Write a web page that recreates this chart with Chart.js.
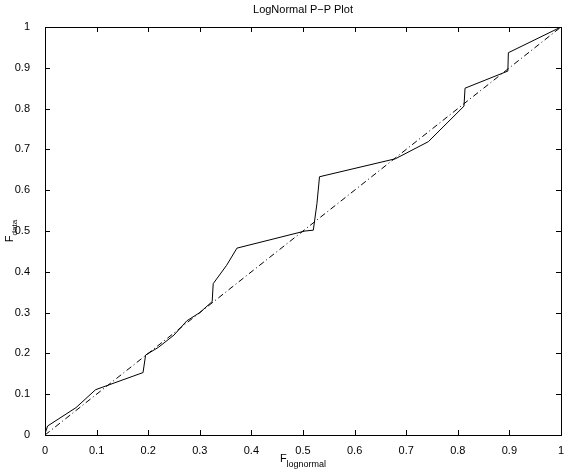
<!DOCTYPE html>
<html>
  <head>
    <meta charset="UTF-8" />
    <title>LogNormal P-P Plot</title>
    <script src="https://cdn.jsdelivr.net/npm/chart.js"></script>
    <style>
      body {
        margin: 0;
        background: #fff;
      }
      #wrap {
        width: 566px;
        height: 469px;
      }
    </style>
  </head>
  <body>
    <div id="wrap"><canvas id="pp"></canvas></div>
    <script>
      // P-P points
      const fLognormal = [
        0, 0.005, 0.06, 0.098, 0.19, 0.195, 0.22, 0.25, 0.275, 0.3, 0.324,
        0.326, 0.352, 0.372, 0.504, 0.52, 0.527, 0.532, 0.679, 0.743, 0.812,
        0.814, 0.897, 0.898, 1,
      ];
      const fData = [
        0.003, 0.022, 0.067, 0.111, 0.153, 0.196, 0.215, 0.245, 0.28, 0.3,
        0.327, 0.371, 0.416, 0.458, 0.5, 0.502, 0.567, 0.633, 0.677, 0.719,
        0.806, 0.85, 0.892, 0.937, 1,
      ];
      const refX = [0, 1];
      const refY = [0, 1];
      const tickValues = [0, 0.1, 0.2, 0.3, 0.4, 0.5, 0.6, 0.7, 0.8, 0.9, 1];

      const font = "Liberation Sans, Arial, Helvetica, sans-serif";
      const fmt = (v) => String(Math.round(v * 10) / 10);

      const frame = {
        id: "frame",
        afterDraw(chart) {
          const { ctx, chartArea: a, scales } = chart;
          ctx.save();
          ctx.strokeStyle = "#000";
          ctx.lineWidth = 1;
          ctx.beginPath();
          tickValues.forEach((v) => {
            const x = Math.round(scales.x.getPixelForValue(v)) + 0.5;
            const y = Math.round(scales.y.getPixelForValue(v)) + 0.5;
            ctx.moveTo(x, a.bottom);
            ctx.lineTo(x, a.bottom - 5);
            ctx.moveTo(x, a.top);
            ctx.lineTo(x, a.top + 5);
            ctx.moveTo(a.left, y);
            ctx.lineTo(a.left + 5, y);
            ctx.moveTo(a.right, y);
            ctx.lineTo(a.right - 5, y);
          });
          ctx.stroke();
          ctx.strokeRect(
            Math.round(a.left) + 0.5,
            Math.round(a.top) + 0.5,
            Math.round(a.right - a.left),
            Math.round(a.bottom - a.top)
          );

          // title and axis labels
          ctx.fillStyle = "#000";
          const cx = (a.left + a.right) / 2;
          ctx.font = "11px " + font;
          ctx.textAlign = "center";
          ctx.textBaseline = "middle";
          ctx.fillText("LogNormal P\u2212P Plot", cx, 10);

          // x label: F with subscript
          ctx.textAlign = "left";
          ctx.font = "11px " + font;
          const wF = ctx.measureText("F").width;
          ctx.font = "9px " + font;
          const wSub = ctx.measureText("lognormal").width;
          let sx = cx - (wF + wSub) / 2;
          ctx.font = "11px " + font;
          ctx.fillText("F", sx, 459);
          ctx.font = "9px " + font;
          ctx.fillText("lognormal", sx + wF, 465);

          // y label: rotated
          ctx.translate(10, (a.top + a.bottom) / 2);
          ctx.rotate(-Math.PI / 2);
          ctx.font = "11px " + font;
          const wF2 = ctx.measureText("F").width;
          ctx.font = "8px " + font;
          const wSub2 = ctx.measureText("data").width;
          sx = -(wF2 + wSub2) / 2;
          ctx.font = "11px " + font;
          ctx.fillText("F", sx, 0);
          ctx.font = "8px " + font;
          ctx.fillText("data", sx + wF2, 5);
          ctx.restore();
        },
      };

      new Chart(document.getElementById("pp"), {
        type: "scatter",
        data: {
          datasets: [
            {
              data: fLognormal.map((x, i) => ({ x, y: fData[i] })),
              showLine: true,
              borderColor: "#000",
              borderWidth: 1,
              pointRadius: 0,
              tension: 0,
            },
            {
              data: refX.map((x, i) => ({ x, y: refY[i] })),
              showLine: true,
              borderColor: "#000",
              borderWidth: 1,
              borderDash: [6, 3, 1, 3],
              pointRadius: 0,
            },
          ],
        },
        options: {
          responsive: true,
          maintainAspectRatio: false,
          animation: false,
          layout: { padding: { top: 27, right: 5, left: 0, bottom: 0 } },
          plugins: {
            legend: { display: false },
            tooltip: { enabled: false },
          },
          scales: {
            x: {
              type: "linear",
              min: 0,
              max: 1,
              grid: { display: false },
              border: { display: false },
              afterBuildTicks: (s) => {
                s.ticks = tickValues.map((value) => ({ value }));
              },
              afterFit: (s) => {
                s.height = 34;
              },
              ticks: {
                color: "#000",
                padding: 1,
                maxRotation: 0,
                autoSkip: false,
                callback: fmt,
                font: { family: font, size: 11 },
              },
            },
            y: {
              type: "linear",
              min: 0,
              max: 1,
              grid: { display: false },
              border: { display: false },
              afterBuildTicks: (s) => {
                s.ticks = tickValues.map((value) => ({ value }));
              },
              afterFit: (s) => {
                s.width = 45;
              },
              ticks: {
                color: "#000",
                padding: 7,
                autoSkip: false,
                callback: fmt,
                font: { family: font, size: 11 },
              },
            },
          },
        },
        plugins: [frame],
      });
    </script>
  </body>
</html>
